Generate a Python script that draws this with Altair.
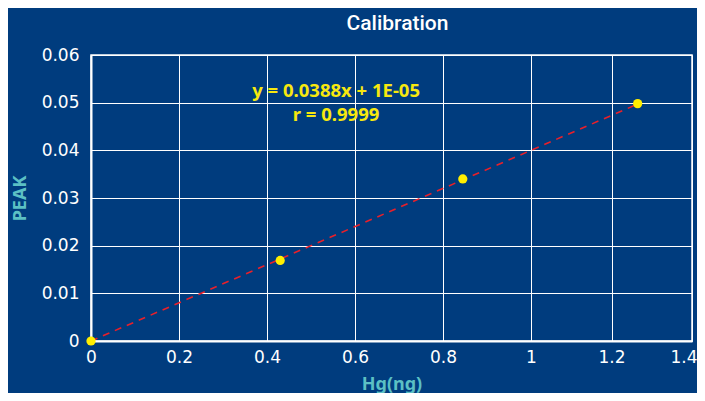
import altair as alt
import pandas as pd

# data
hg_ng = [0.0, 0.43, 0.845, 1.265]
peak = [0.0, 0.0169, 0.0340, 0.0498]

fit_x = [0.0, 1.265]
fit_y = [0.00001, 0.0497]

ann_text = ["y = 0.0388x + 1E-05", "r = 0.9999"]
ann_x = [0.557, 0.557]
ann_y = [0.0524, 0.0474]

x_ticks = [0, 0.2, 0.4, 0.6, 0.8, 1.0, 1.2, 1.4]
y_ticks = [0, 0.01, 0.02, 0.03, 0.04, 0.05, 0.06]

pts = pd.DataFrame({"x": hg_ng, "y": peak})
fit = pd.DataFrame({"x": fit_x, "y": fit_y})
ann = pd.DataFrame({"x": ann_x, "y": ann_y, "t": ann_text})

BG = "#003c7e"
TEAL = "#5cc0c4"

xscale = alt.Scale(domain=[0, 1.0, 1.4], range=[0, 440, 601], nice=False, zero=False)
yscale = alt.Scale(domain=[0, 0.06], nice=False)

xaxis = alt.Axis(
    values=x_ticks, format="~g", title="Hg(ng)", grid=True,
    labelAlign={"condition": {"test": "datum.value >= 1.4", "value": "right"}, "value": "center"},
    labelOffset={"condition": {"test": "datum.value >= 1.4", "value": 5}, "value": 0},
)
yaxis = alt.Axis(values=y_ticks, format="~g", title="PEAK", grid=True)

line = alt.Chart(fit).mark_line(
    color="#e8202a", strokeDash=[7, 6], strokeWidth=1.6
).encode(
    x=alt.X("x:Q", scale=xscale, axis=xaxis),
    y=alt.Y("y:Q", scale=yscale, axis=yaxis),
)

points = alt.Chart(pts).mark_circle(
    color="#ffee00", size=85, opacity=1
).encode(
    x=alt.X("x:Q", scale=xscale),
    y=alt.Y("y:Q", scale=yscale),
)

text = alt.Chart(ann).mark_text(
    color="#f7e80f", font="Noto Sans", fontSize=18.5, fontWeight="bold",
    align="center", baseline="middle"
).encode(
    x=alt.X("x:Q", scale=xscale),
    y=alt.Y("y:Q", scale=yscale),
    text="t:N",
)

chart = (line + points + text).properties(
    width=601,
    height=286,
    background=BG,
    autosize=alt.AutoSizeParams(type="none"),
    padding={"left": 83, "top": 47, "right": 5, "bottom": 52},
    title=alt.TitleParams(
        "Calibration", color="white", font="Roboto", fontSize=21,
        fontWeight=500, anchor="middle", offset=12, dx=6
    ),
).configure_view(
    stroke="white", strokeWidth=1.5
).configure_axis(
    domainColor="white", domainWidth=2,
    gridColor="white", gridWidth=1, gridOpacity=1,
    ticks=False,
    labelColor="white", labelFont="DejaVu Sans", labelFontSize=17,
    titleColor=TEAL, titleFont="Noto Sans", titleFontSize=18, titleFontWeight="bold",
).configure_axisY(
    labelPadding=12, titlePadding=12
).configure_axisX(
    labelPadding=8, titlePadding=10, labelFlush=False
)

chart.save("out.html", embed_options={"renderer": "svg", "actions": False})
